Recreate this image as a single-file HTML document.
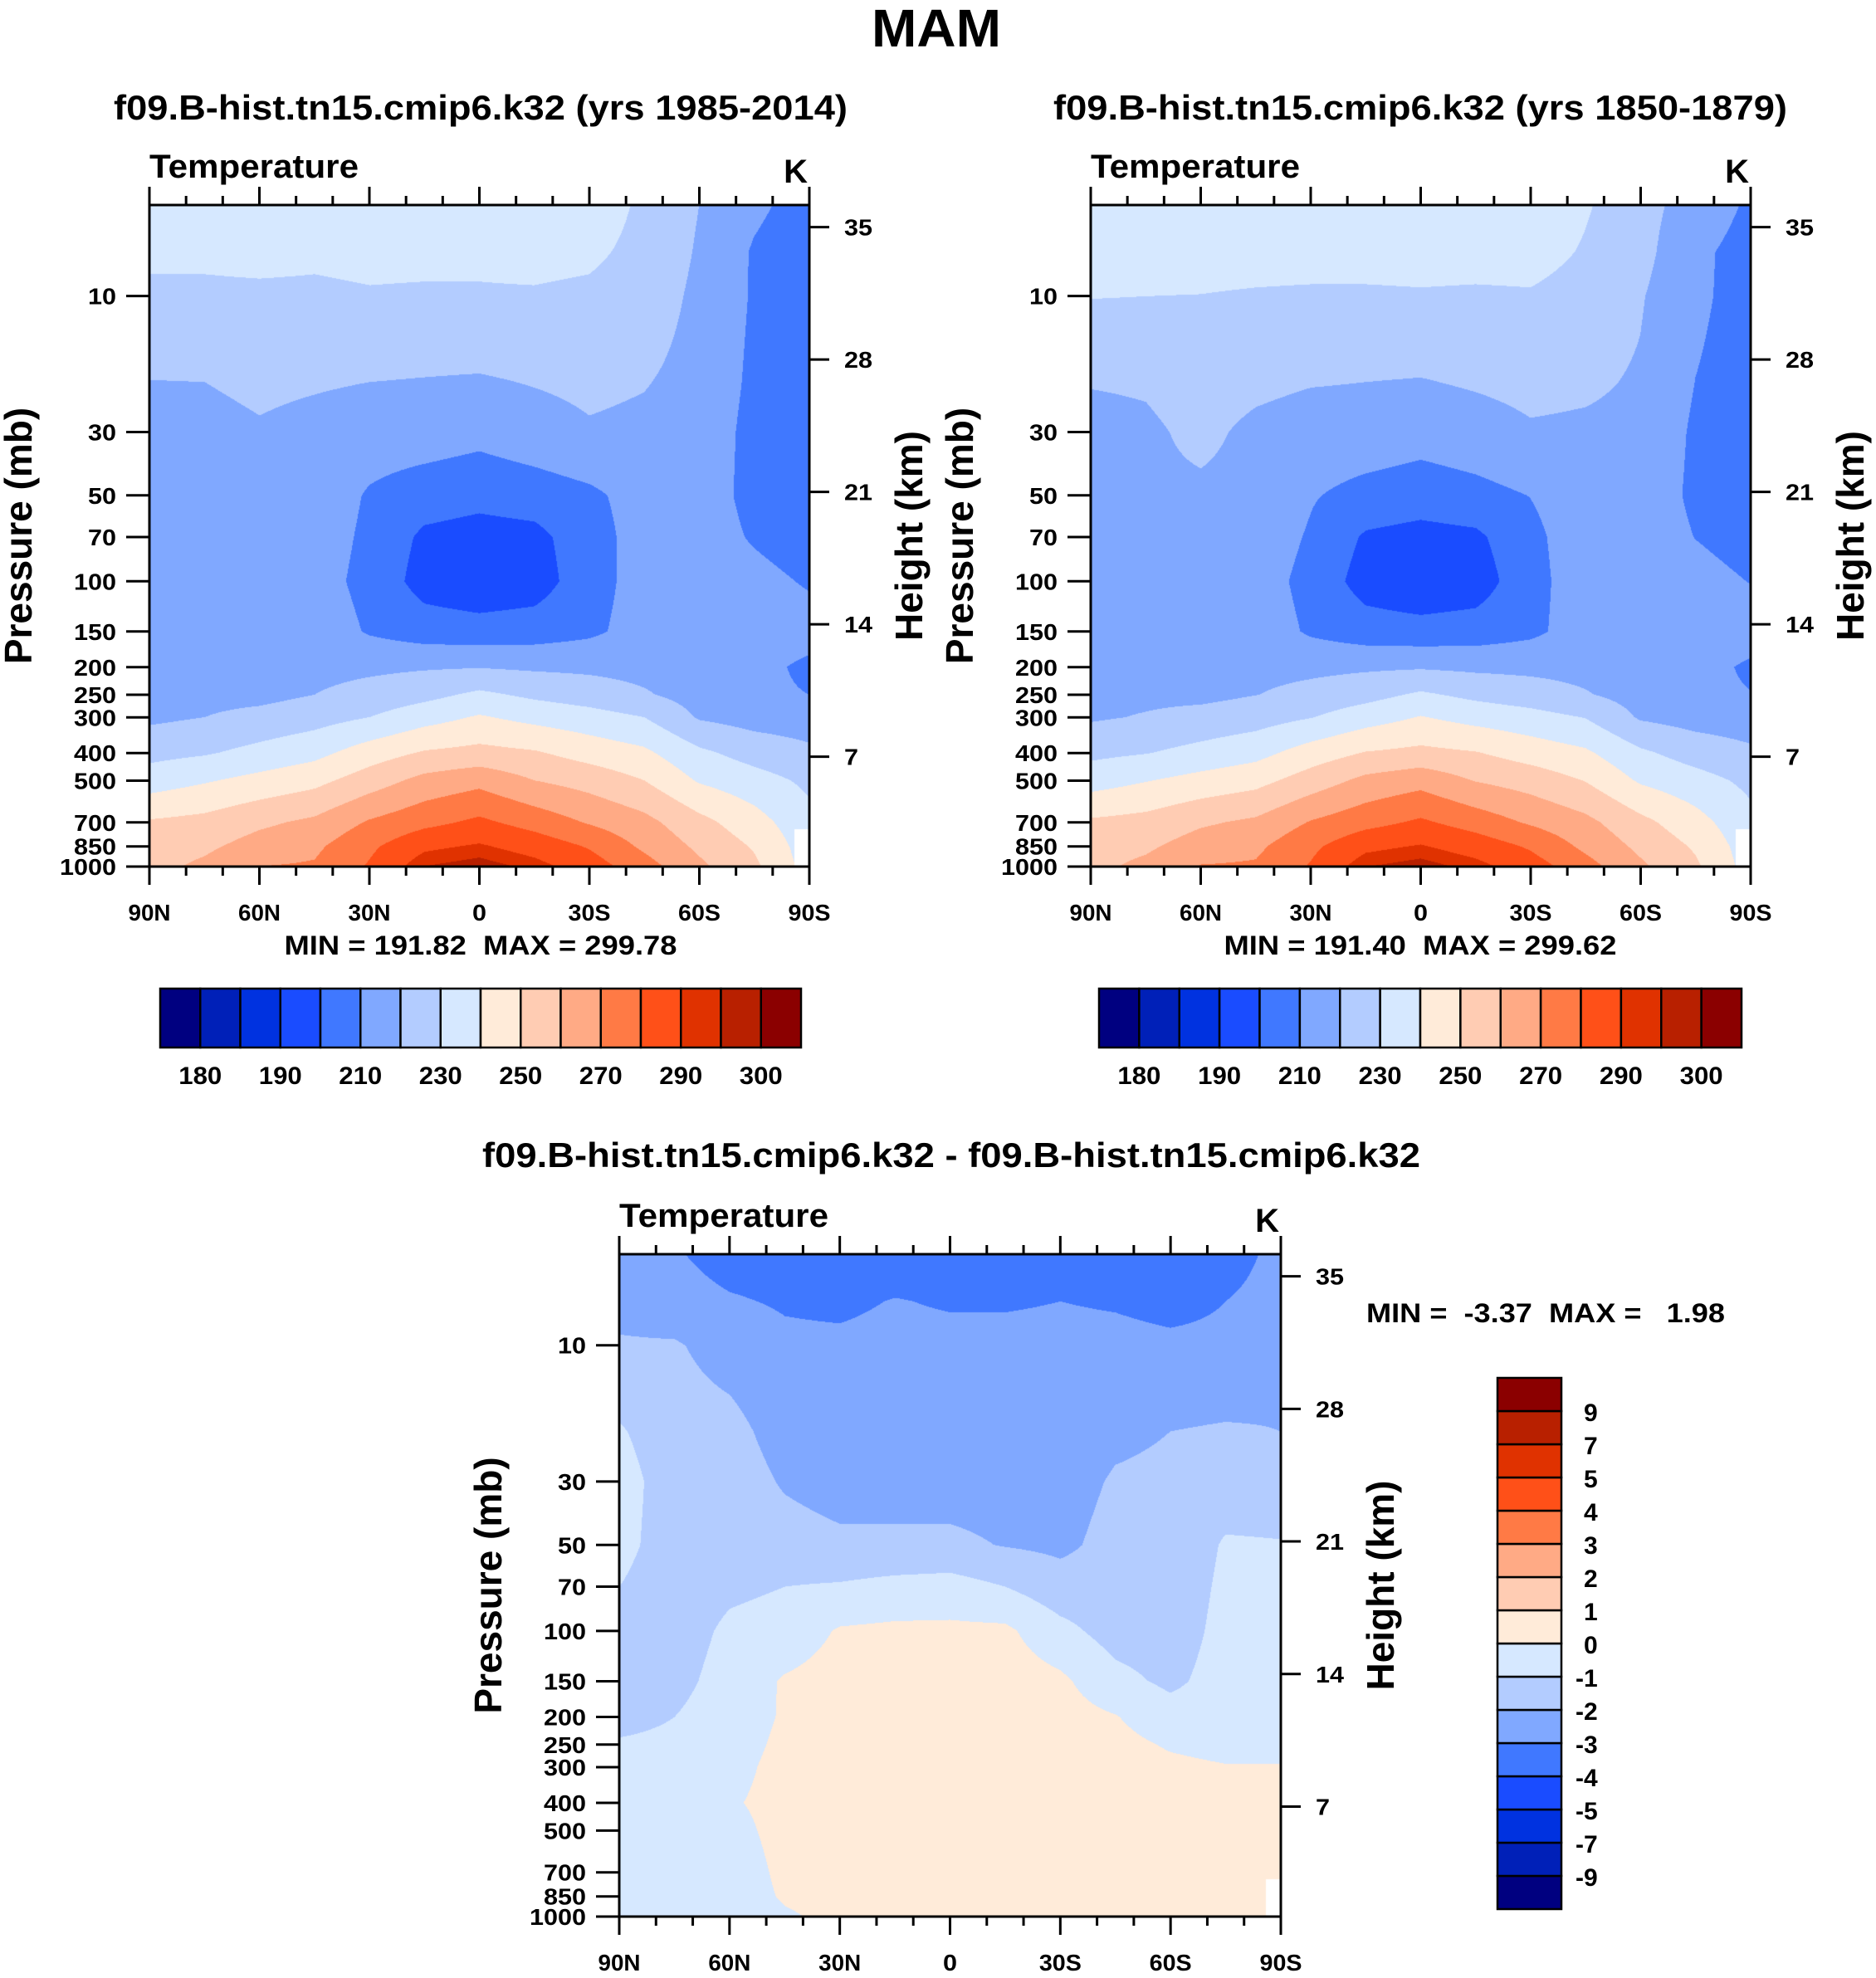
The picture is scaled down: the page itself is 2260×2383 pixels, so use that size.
<!DOCTYPE html>
<html><head><meta charset="utf-8">
<style>
html,body{margin:0;padding:0;background:#fff;}
#root{position:relative;width:2260px;height:2383px;overflow:hidden;background:#fff;}
canvas{position:absolute;}
svg{position:absolute;left:0;top:0;}
text{font-family:"Liberation Sans",sans-serif;font-weight:bold;fill:#000;white-space:pre;}
</style></head>
<body>
<div id="root">
<canvas id="c1" width="795" height="797" style="left:180px;top:247px"></canvas>
<canvas id="c2" width="795" height="797" style="left:1314px;top:247px"></canvas>
<canvas id="c3" width="797" height="798" style="left:746px;top:1511px"></canvas>
<svg id="s" width="2260" height="2383"></svg>
</div>
<script>
// ---- data ----
const lats = [90,75,60,45,30,15,0,-15,-30,-45,-60,-75,-90];
const plev = [4.8,7,10,20,30,50,70,100,150,200,250,300,400,500,700,850,1000];
// temperature (K) per latitude column, values at plev
const T1 = [
[238,232,228,219.8,217,217,216,216,216,216,217,218,227,235,251,255,257],
[238,232,228,220,217,217,216,216,216,216,217,220,229,239,253,258,262],
[238,233,228,222,219,217,216,215,216,216,217,223,233,243,258,264,270],
[238,232,228,221,217,216,215,214,216,217,220,226,237,247,262,268,271],
[238,233,229,220,215,209,208,207,209,218,223.5,230,245,255,271,278,281],
[238,233,228.5,219.5,215,205,198,196,205,219,227,236,251,263,277,288,295],
[238,232,229,219,213,203,196,193,204,219.5,232,241,253,267,282,291,298],
[238,233,229,220.5,216,205,197,195,205,218.5,228,237,251,260,276,286,293],
[236,232,228,222,219,208,206,206,208,218,225,234,246,256,269,279,285],
[228,227,225,220.5,218,214,214,214,214,217,221,230,242,250,263,268,274],
[220,219,218,217,216,215,215,215,216,216,216,219,232,239,253,258,262],
[212,209,209,208,207,207,209,213,215,213,212,216,226,234,244,249,252],
[206,204,204,204,204,204,205,209,214,208,210,215,222,228,233,235,236]];
const T2 = [
[238.8,234,230.3,220.5,217,217.7,217,217.5,217.6,217.3,217.9,218.8,227.7,235.6,251.5,255.5,257.6],
[238.8,234,230,221,218.5,218.5,217.6,217.5,217.3,217,217.8,220.7,229.6,239.5,253.4,258.3,262.3],
[238.8,234,229.8,224,222,218.5,217.2,215.8,216.6,216.5,217.4,223.3,233.1,243.3,258.5,264.5,270.5],
[238.8,234,229,222,218,217.6,216,214.6,215.9,216.9,219.8,225.7,236.7,246.7,261.8,267.9,271.1],
[238.8,234,228.5,220.5,216,210.8,208.9,206.9,208.6,217.6,223.1,229.6,244.6,254.6,270.6,277.7,280.8],
[238.8,234,228.5,220,216,206.8,198.7,195.8,204.5,218.5,226.5,235.5,250.5,262.5,276.5,287.6,294.7],
[238.8,234,229,219.5,214,204.8,196.6,192.8,203.5,219,231.5,240.5,252.5,266.5,281.5,290.6,297.7],
[238.8,234,228.5,221,216,207,198,194.8,204.5,218,227.5,236.5,250.5,259.5,275.5,285.6,292.7],
[238.8,234,229,222.5,219,210.2,207.6,206.7,207.8,217.6,224.6,233.6,245.6,255.6,268.6,278.6,284.7],
[231,229,226,221.5,218.5,215.7,215.6,215.4,214.7,217,220.7,229.6,241.6,249.6,262.6,267.7,273.7],
[223.6,223.3,220.8,219,217.8,216.7,216.6,216.5,217.2,216.6,216.1,218.8,231.7,238.7,252.7,257.7,261.7],
[215.6,212,211.8,209.9,208.5,207.9,209.8,213.7,215.6,213.6,212.3,216,225.7,233.7,243.7,248.7,251.7],
[208.6,206.5,206.3,206,205.5,205,205.8,209.7,214.6,208.5,210.3,215,221.7,227.7,232.7,234.7,235.7]];
const D3 = [
[-2.5,-2.3,-1.9,-0.9,-0.6,-0.7,-1.0,-1.5,-1.6,-1.3,-0.9,-0.8,-0.7,-0.6,-0.5,-0.5,-0.6],
[-2.9,-2.6,-1.9,-1.6,-1.5,-1.5,-1.6,-1.5,-1.3,-1.0,-0.8,-0.7,-0.6,-0.5,-0.4,-0.3,-0.3],
[-3.4,-2.9,-2.4,-1.7,-1.5,-1.4,-1.2,-0.8,-0.6,-0.5,-0.4,-0.3,-0.1,-0.3,-0.5,-0.5,-0.5],
[-3.5,-3.1,-2.8,-2.4,-2.1,-1.6,-1.0,-0.6,0.1,0.1,0.2,0.3,0.3,0.3,0.2,0.1,-0.1],
[-3.6,-3.2,-2.8,-2.6,-2.4,-1.8,-0.9,0.1,0.4,0.4,0.4,0.4,0.4,0.4,0.4,0.3,0.2],
[-3.6,-2.95,-2.7,-2.6,-2.4,-1.8,-0.7,0.2,0.5,0.5,0.5,0.5,0.5,0.5,0.5,0.4,0.3],
[-3.6,-3.1,-2.7,-2.6,-2.4,-1.8,-0.6,0.2,0.5,0.5,0.5,0.5,0.5,0.5,0.5,0.4,0.3],
[-3.6,-3.1,-2.7,-2.6,-2.4,-2.05,-1.0,0.2,0.5,0.5,0.5,0.5,0.5,0.5,0.5,0.4,0.3],
[-3.5,-3.0,-2.7,-2.6,-2.4,-2.2,-1.6,-0.7,0.2,0.4,0.4,0.4,0.4,0.4,0.4,0.4,0.3],
[-3.6,-3.1,-2.7,-2.2,-1.9,-1.7,-1.6,-1.4,-0.7,0.05,0.3,0.4,0.4,0.4,0.4,0.3,0.3],
[-3.6,-3.3,-2.8,-2.0,-1.8,-1.7,-1.6,-1.5,-1.2,-0.6,-0.1,0.2,0.3,0.3,0.3,0.3,0.3],
[-3.6,-3.0,-2.8,-1.9,-1.5,-0.9,-0.8,-0.7,-0.6,-0.6,-0.3,0.05,0.3,0.3,0.3,0.3,0.3],
[-2.6,-2.5,-2.3,-2.0,-1.5,-0.95,-0.8,-0.7,-0.6,-0.5,-0.3,0.05,0.3,0.3,0.3,0.3,0.3]];
const levelsT = [180,185,190,200,210,220,230,240,250,260,270,280,290,295,300];
const levelsD = [-9,-7,-5,-4,-3,-2,-1,0,1,2,3,4,5,7,9];
const labelsT = ["180","190","210","230","250","270","290","300"];
const labelsD = ["-9","-7","-5","-4","-3","-2","-1","0","1","2","3","4","5","7","9"];
const colors = ["#000080","#0020B8","#0032E0","#1A4CFF","#4078FF","#80A8FF","#B3CCFF","#D6E8FF","#FFEBD9","#FFCCB3","#FFAA85","#FF7A45","#FF5018","#E03200","#B82000","#8B0000"];
const pTicks = [10,30,50,70,100,150,200,250,300,400,500,700,850,1000];
const kmTicks = [7,14,21,28,35];
const latTicks = [90,60,30,0,-30,-60,-90];
const latTickLabels = ["90N","60N","30N","0","30S","60S","90S"];
const minMax1 = "MIN = 191.82  MAX = 299.78";
const minMax2 = "MIN = 191.40  MAX = 299.62";
const minMax3 = "MIN =  -3.37  MAX =   1.98";

// ---- helpers ----
const PTOP = 4.8;
function yOfP(p, top, h){ return top + h*(Math.log10(p)-Math.log10(PTOP))/(3-Math.log10(PTOP)); }
function xOfLat(lat, left, w){ return left + w*(90-lat)/180; }
function pOfKm(z){ return 1200*Math.exp(-z/6.55); }
function hex(c){ return [parseInt(c.substr(1,2),16),parseInt(c.substr(3,2),16),parseInt(c.substr(5,2),16)]; }
const rgb = colors.map(hex);
const logP = plev.map(p=>Math.log10(p));

function sample(F, lat, lp){
  let fi = (90-lat)/15; let i0 = Math.min(11, Math.floor(fi)); let ti = fi-i0;
  let j0 = 0; while (j0 < plev.length-2 && lp > logP[j0+1]) j0++;
  let tj = (lp-logP[j0])/(logP[j0+1]-logP[j0]); tj = Math.max(0,Math.min(1,tj));
  const a = F[i0][j0]*(1-tj)+F[i0][j0+1]*tj;
  const b = F[i0+1][j0]*(1-tj)+F[i0+1][j0+1]*tj;
  return a*(1-ti)+b*ti;
}
function drawField(id, F, levels, mask){
  const cv = document.getElementById(id), ctx = cv.getContext('2d');
  const w = cv.width, h = cv.height, img = ctx.createImageData(w,h);
  const lt = Math.log10(PTOP);
  for (let py=0; py<h; py++){
    const lp = lt + (3-lt)*py/(h-1);
    for (let px=0; px<w; px++){
      const lat = 90 - 180*px/(w-1);
      const k = (py*w+px)*4;
      let c;
      if (mask && lat < -86 && lp > 2.87) c=[255,255,255];
      else { const v = sample(F, lat, lp); let idx=0; while(idx<levels.length && v>=levels[idx]) idx++; c = rgb[idx]; }
      img.data[k]=c[0]; img.data[k+1]=c[1]; img.data[k+2]=c[2]; img.data[k+3]=255;
    }
  }
  ctx.putImageData(img,0,0);
}
drawField('c1', T1, levelsT, true);
drawField('c2', T2, levelsT, true);
drawField('c3', D3, levelsD, true);

// ---- svg ----
const NS = "http://www.w3.org/2000/svg";
const svg = document.getElementById('s');
function el(tag, attrs, parent){ const e = document.createElementNS(NS, tag); for (const k in attrs) e.setAttribute(k, attrs[k]); (parent||svg).appendChild(e); return e; }
function txt(s, x, y, size, anchor, extra){ const t = el('text', Object.assign({x:x,y:y,'font-size':size,'text-anchor':anchor||'middle'}, extra||{})); t.textContent = s; return t; }

let t;
t = txt("MAM", 1128, 56, 64, 'middle', {textLength:156, lengthAdjust:'spacingAndGlyphs'});
 

function panel(left, top, w, h, name, title, tcx, tlen, tby, minmax, mmx, mmy, mmlen, mmAnchor){
  const g = el('g', {});
   
  let e;
  e = txt(title, tcx, tby, 42, 'middle', {textLength:tlen, lengthAdjust:'spacingAndGlyphs'}); g.appendChild(e);
   
  e = txt("Temperature", left, top-33, 40, 'start', {textLength:252, lengthAdjust:'spacingAndGlyphs'}); g.appendChild(e);
   
  e = txt("K", left+w-2, top-27, 40, 'end'); g.appendChild(e);
   
  e = el('rect', {x:left, y:top, width:w, height:h, fill:'none', stroke:'#000', 'stroke-width':3}, g);
   
  for (let lat=90; lat>=-90; lat-=10){
    const x = xOfLat(lat, left, w); const major = (lat%30===0);
    const L = major?22:11;
    e = el('line', {x1:x,y1:top,x2:x,y2:top-L,stroke:'#000','stroke-width':3}, g);
     
    e = el('line', {x1:x,y1:top+h,x2:x,y2:top+h+L,stroke:'#000','stroke-width':3}, g);
     
  }
  latTicks.forEach((lat,i)=>{
    const e2 = txt(latTickLabels[i], xOfLat(lat,left,w), top+h+65, 28, 'middle', {textLength: latTickLabels[i].length*17, lengthAdjust:'spacingAndGlyphs'}); g.appendChild(e2);
     
  });
  pTicks.forEach(p=>{
    const y = yOfP(p, top, h);
    let e2 = el('line', {x1:left-28,y1:y,x2:left,y2:y,stroke:'#000','stroke-width':3}, g);
     
    const s = String(p);
    e2 = txt(s, left-40, y+10, 28, 'end', {textLength:s.length*17, lengthAdjust:'spacingAndGlyphs'}); g.appendChild(e2);
     
  });
  kmTicks.forEach(z=>{
    const y = yOfP(pOfKm(z), top, h);
    let e2 = el('line', {x1:left+w,y1:y,x2:left+w+24,y2:y,stroke:'#000','stroke-width':3}, g);
     
    const s = String(z);
    e2 = txt(s, left+w+42, y+10, 28, 'start', {textLength:s.length*17, lengthAdjust:'spacingAndGlyphs'}); g.appendChild(e2);
     
  });
  const cy = top + h*0.5;
  e = txt("Pressure (mb)", 0, 0, 46, 'middle', {transform:`translate(${left-142},${cy}) rotate(-90)`}); g.appendChild(e);
   
  e = txt("Height (km)", 0, 0, 46, 'middle', {transform:`translate(${left+w+136},${cy}) rotate(-90)`}); g.appendChild(e);
   
  e = txt(minmax, mmx, mmy, 32, mmAnchor, {textLength:mmlen, lengthAdjust:'spacingAndGlyphs'}); g.appendChild(e);
   
}
panel(180,247,795,797,'panel-1985-2014',"f09.B-hist.tn15.cmip6.k32 (yrs 1985-2014)",579,884,144,minMax1,579,1150,473,'middle');
panel(1314,247,795,797,'panel-1850-1879',"f09.B-hist.tn15.cmip6.k32 (yrs 1850-1879)",1711,884,144,minMax2,1711,1150,473,'middle');
panel(746,1511,797,798,'panel-difference',"f09.B-hist.tn15.cmip6.k32 - f09.B-hist.tn15.cmip6.k32",1146,1130,1406,minMax3,1646,1593,432,'start');

function hbar(left, top, w, h, name){
  const g = el('g', {});
   
  const bw = w/colors.length;
  colors.forEach((c,i)=>{
    const r = el('rect', {x:left+i*bw, y:top, width:bw, height:h, fill:c, stroke:'#000','stroke-width':2.5}, g);
     
  });
  labelsT.forEach((s,i)=>{
    const k = 2*i+1;
    const e = txt(s, left+k*bw, top+h+44, 30, 'middle', {textLength:52, lengthAdjust:'spacingAndGlyphs'}); g.appendChild(e);
     
  });
}
hbar(193,1191,772,71,'colorbar-1985-2014');
hbar(1324,1191,774,71,'colorbar-1850-1879');

(function vbar(left, top, w, h){
  const g = el('g', {});
   
  const bh = h/colors.length;
  colors.forEach((c,i)=>{
    const r = el('rect', {x:left, y:top+h-(i+1)*bh, width:w, height:bh, fill:c, stroke:'#000','stroke-width':2.5}, g);
     
  });
  labelsD.forEach((s,i)=>{
    const y = top + h - (i+1)*bh;
    const x = s.startsWith('-') ? left+w+17 : left+w+27;
    const e = txt(s, x, y+12, 30, 'start'); g.appendChild(e);
     
  });
})(1804,1660,77,640);
</script>
</body></html>
